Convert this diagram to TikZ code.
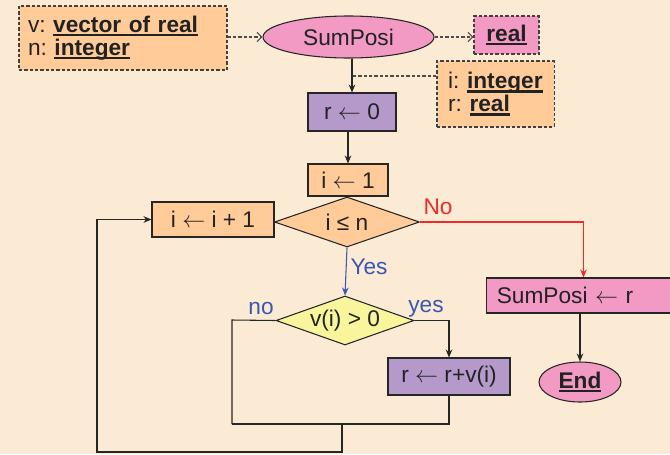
\documentclass[tikz,border=0pt]{standalone}
\usepackage{fontspec}
\setmainfont{Liberation Sans}
\usetikzlibrary{shapes.geometric,arrows.meta}
\definecolor{bgc}{HTML}{FBEBD5}
\definecolor{orng}{HTML}{FFCC99}
\definecolor{pnk}{HTML}{F299C4}
\definecolor{purp}{HTML}{B499CA}
\definecolor{yel}{HTML}{F8F59C}
\definecolor{redc}{HTML}{EE2B2B}
\definecolor{bluec}{HTML}{3A56B0}
\definecolor{txt}{HTML}{222222}
\newcommand\bu[1]{\setbox0\hbox{\bfseries #1}\leavevmode\rlap{\rule[-3pt]{\wd0}{1.8pt}}\box0}
\tikzset{
  base/.style={line width=0.8pt, draw=black!85, inner sep=0pt, text=txt},
  boxn/.style={base, rectangle},
  dboxn/.style={boxn, dash pattern=on 2.5pt off 1.5pt, draw=black!75},
  ell/.style={base, ellipse},
  dia/.style={base, diamond},
  arr/.style={line width=0.8pt, draw=black!85, -{Stealth[length=6pt,width=5pt]}},
  darr/.style={line width=0.8pt, draw=black!70, dash pattern=on 2.5pt off 1.5pt, -{Straight Barb[length=3.5pt,width=7pt]}},
  plain/.style={line width=0.8pt, draw=black!85},
  lab/.style={inner sep=0pt}
}
\begin{document}
\begin{tikzpicture}[x=0.75pt,y=-0.75pt,font=\fontsize{17}{17.5}\selectfont\frenchspacing]
\fill[bgc] (0,0) rectangle (670,454);
\useasboundingbox (0,0) rectangle (670,454);
\clip (0,0) rectangle (670,454);

% nodes
\node[dboxn, fill=orng, text width=142.5pt, minimum height=48pt, inner xsep=6.75pt, align=left] (in1) at (123,38) {v: \bu{vector of real}\\n: \bu{integer}};
\node[ell, fill=pnk, minimum width=128.25pt, minimum height=31.5pt] (sp) at (348.5,37) {SumPosi};
\node[dboxn, fill=pnk, minimum width=48.75pt, minimum height=28.5pt] (outr) at (506.5,35) {\bu{real}};
\node[dboxn, fill=orng, text width=80pt, minimum height=49.5pt, inner xsep=3.9pt, align=left] (loc) at (495.5,94) {\hspace*{4.5pt}i: \bu{integer}\\\hspace*{4.5pt}r: \bu{real}};
\node[boxn, fill=purp, minimum width=66pt, minimum height=28.5pt] (r0) at (352,112) {r $\leftarrow$ 0};
\node[boxn, fill=orng, minimum width=60pt, minimum height=24pt] (i1) at (348,180) {i $\leftarrow$ 1};
\node[dia, fill=orng, minimum width=108.75pt, minimum height=37.5pt, shape aspect=2.9] (c1) at (347,222) {i ≤ n};
\node[boxn, fill=orng, minimum width=91.5pt, minimum height=26.25pt] (inc) at (213,219.5) {i $\leftarrow$ i + 1};
\node[dia, fill=yel, minimum width=103.5pt, minimum height=36.75pt, shape aspect=2.8] (c2) at (345,320.5) {v(i) > 0};
\node[boxn, fill=purp, minimum width=91.5pt, minimum height=27.75pt] (radd) at (449,376.5) {r $\leftarrow$ r+v(i)};
\node[boxn, fill=pnk, text width=130pt, minimum height=26.25pt, inner xsep=7.5pt, align=left] (ret) at (583.5,295.5) {SumPosi $\leftarrow$ r};
\node[ell, fill=pnk, minimum width=61.5pt, minimum height=30pt] (endn) at (580,382) {\bu{End}};

% labels
\node[lab, text=redc] (lno) at (438,207) {No};
\node[lab, text=bluec] (lyes) at (369,267) {Yes};
\node[lab, text=bluec] (lno2) at (261,309) {no};
\node[lab, text=bluec] (lyes2) at (426,309) {yes};

% coordinates
\coordinate (locj) at (352,76);
\coordinate (nol) at (232,320);
\coordinate (joinl) at (232,424);
\coordinate (joinm) at (342,424);
\coordinate (botm) at (342,452);
\coordinate (botl) at (97,452);

% connectors
\draw[darr] (in1.east |- sp.west) -- (sp.west);
\draw[darr] (sp.east) -- (outr.west |- sp.east);
\draw[arr] (r0.north |- sp.south) -- (r0.north);
\draw[plain, dash pattern=on 2.5pt off 1.5pt, draw=black!70] (loc.west |- locj) -- (locj);
\draw[arr] (i1.north |- r0.south) -- (i1.north);
\draw[arr, draw=redc] (c1.east) -| (ret.north);
\draw[arr, draw=bluec] (c1.south) -- (c2.north);
\draw[arr] (c2.east) -| (radd.north);
\draw[plain] (c2.west) -- (nol) -- (joinl);
\draw[plain] (radd.south) |- (joinl);
\draw[arr] (joinm) -- (botm) -- (botl) |- (inc.west);
\draw[arr] (endn.north |- ret.south) -- (endn.north);
\end{tikzpicture}
\end{document}
